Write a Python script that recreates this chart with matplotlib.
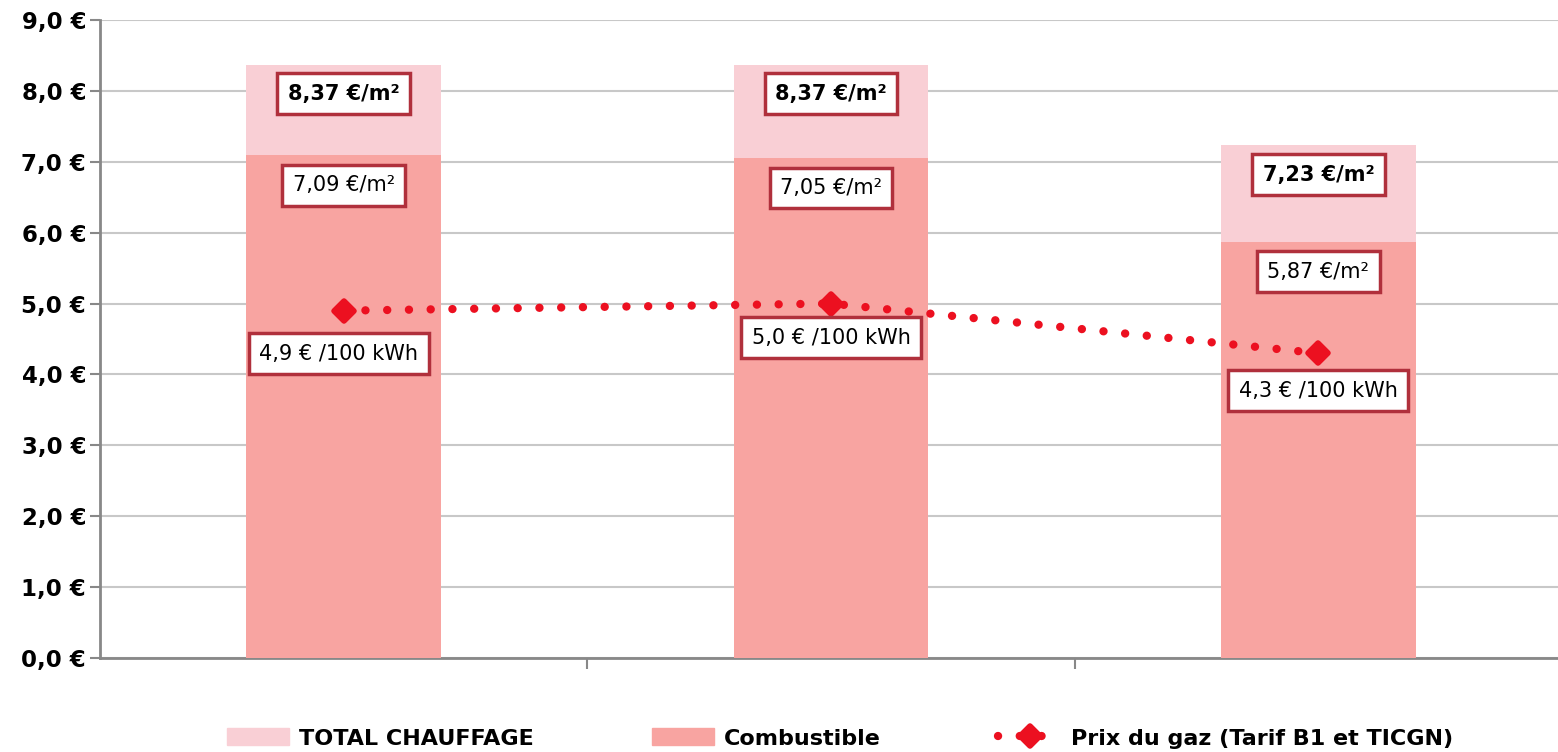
import matplotlib
matplotlib.use("Agg")
import matplotlib.pyplot as plt
import numpy as np
from matplotlib.lines import Line2D
from matplotlib.patches import Patch
from matplotlib.markers import MarkerStyle

plt.rcParams['font.family'] = ['DejaVu Sans']

# data
categories = ["", "", ""]
total_chauffage = [8.37, 8.37, 7.23]
combustible = [7.09, 7.05, 5.87]
prix_gaz = [4.9, 5.0, 4.3]
total_labels = ["8,37 €/m²", "8,37 €/m²", "7,23 €/m²"]
comb_labels = ["7,09 €/m²", "7,05 €/m²", "5,87 €/m²"]
gaz_labels = ["4,9 € /100 kWh", "5,0 € /100 kWh", "4,3 € /100 kWh"]
yticks = np.arange(0, 9.01, 1.0)

c_total = "#f9cfd5"
c_comb = "#f8a4a1"
c_line = "#ec1020"
c_box = "#b0303c"

fig = plt.figure(figsize=(15.58, 7.52), dpi=100)
ax = fig.add_axes([100/1558, 94/752, 1462/1558, 638/752])

x = np.arange(len(categories))
w = 0.4
ax.bar(x, total_chauffage, width=w, color=c_total, zorder=2)
ax.bar(x, combustible, width=w, color=c_comb, zorder=3)

dot_style = (0, (0.01, 2.6))
mk = MarkerStyle('D', joinstyle='round')
ax.plot(x, prix_gaz, color=c_line, lw=6, ls=dot_style,
        dash_capstyle='round', zorder=4)
ax.plot(x, prix_gaz, ls='none', marker=mk, ms=10.5, color=c_line,
        mec=c_line, mew=4, zorder=5)

box = dict(boxstyle='square,pad=0.5', fc='white', ec=c_box, lw=2.5)
for i in x:
    ax.text(i, total_chauffage[i] - 0.41, total_labels[i], ha='center', va='center',
            fontsize=15, fontweight='bold', bbox=box, zorder=6)
    ax.text(i, combustible[i] - 0.42, comb_labels[i], ha='center', va='center',
            fontsize=15, bbox=box, zorder=6)
gaz_dy = [0.61, 0.48, 0.53]
gaz_dx = [-0.01, 0.0, 0.0]
for i in x:
    ax.text(i + gaz_dx[i], prix_gaz[i] - gaz_dy[i], gaz_labels[i], ha='center',
            va='center', fontsize=15, bbox=box, zorder=6)

ax.set_xlim(-0.5, 2.5)
ax.set_ylim(0, 9)
ax.set_yticks(yticks)
ax.set_yticklabels([("%.1f €" % v).replace(".", ",") for v in yticks],
                   fontsize=16.5, fontweight='bold')
ax.set_xticks([0.5, 1.5, 2.5])
ax.set_xticklabels([])
ax.tick_params(axis='y', length=7, width=1.5, color='#888888', pad=3)
ax.tick_params(axis='x', length=8, width=1.5, color='#888888', direction='out')
ax.grid(axis='y', color='#c8c8c8', lw=1.5, zorder=0)
for s in ['top', 'right']:
    ax.spines[s].set_visible(False)
ax.spines['left'].set_color('#888888')
ax.spines['left'].set_linewidth(2)
ax.spines['bottom'].set_color('#888888')
ax.spines['bottom'].set_linewidth(2)

handles = [Patch(color=c_total, label='TOTAL CHAUFFAGE'),
           Patch(color=c_comb, label='Combustible'),
           Line2D([0], [0], color=c_line, lw=6, ls=dot_style,
                  dash_capstyle='round', marker=mk, ms=10, mew=4,
                  label='Prix du gaz (Tarif B1 et TICGN)')]
leg = fig.legend(handles=handles, loc='lower center', bbox_to_anchor=(0.539, -0.022),
                 ncol=3, frameon=False, columnspacing=5.3, handlelength=2.8,
                 handletextpad=0.45, handleheight=0.8,
                 prop={'size': 16, 'weight': 'bold'})

fig.savefig("out.png", dpi=100)
